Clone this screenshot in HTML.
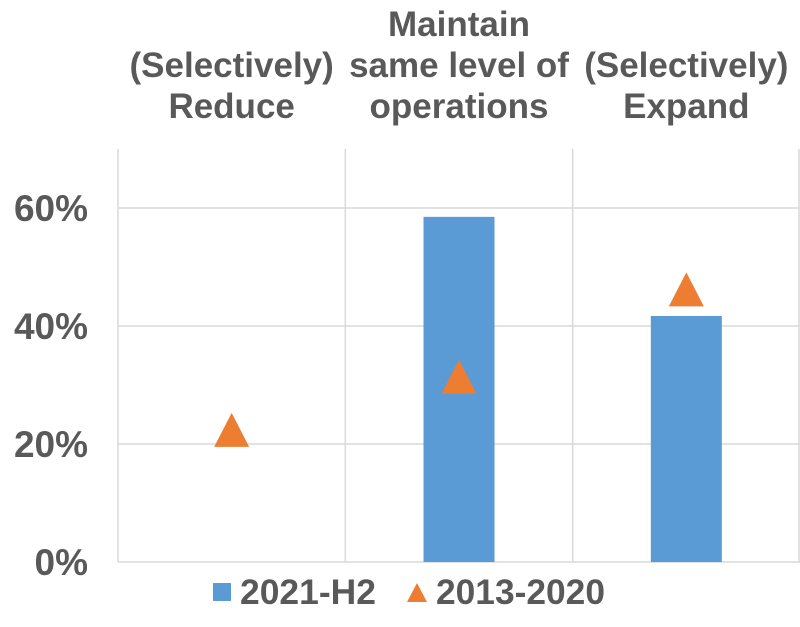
<!DOCTYPE html>
<html><head><meta charset="utf-8"><style>
html,body{margin:0;padding:0;background:#fff}
svg text{font-family:"Liberation Sans",Arial,sans-serif;font-weight:bold;fill:#595959}
</style></head><body>
<svg id="chart" width="800" height="622" viewBox="0 0 800 622" xmlns="http://www.w3.org/2000/svg">
<g id="grid"></g>
<g id="cats"></g>
<g id="yt"></g>
<g id="bars"></g>
<g id="tris"></g>
<g>
<rect x="213" y="583" width="18" height="18" fill="#5B9BD5"/>
<text x="240" y="604" font-size="35" textLength="136" lengthAdjust="spacingAndGlyphs">2021-H2</text>
<polygon points="417,583 427,602 407,602" fill="#ED7D31"/>
<text x="436" y="604" font-size="35" textLength="169" lengthAdjust="spacingAndGlyphs">2013-2020</text>
</g>
</svg>
<script>
const categories=[["(Selectively)","Reduce"],["Maintain","same level of","operations"],["(Selectively)","Expand"]];
const bars2021=[null,58.5,41.7];
const tri2013=[22.4,31.4,46.2];
const yTicks=[0,20,40,60];
const yTickLabels=["0%","20%","40%","60%"];
const NS="http://www.w3.org/2000/svg";
const x0=118,x1=800,yBase=562,pxPer=5.9,yTop=149;
const cw=(x1-x0)/categories.length;
const y=v=>yBase-v*pxPer;
const cx=i=>x0+cw*(i+0.5);
function mk(t,a,p){const e=document.createElementNS(NS,t);for(const k in a)e.setAttribute(k,a[k]);p.appendChild(e);return e;}
const grid=document.getElementById('grid');
yTicks.forEach(v=>{const l=mk('line',{x1:x0,x2:x1,y1:y(v),y2:y(v),stroke:'#d9d9d9','stroke-width':1.5},grid);

});
for(let i=0;i<=categories.length;i++){const xx=Math.min(x0+cw*i,799);const l=mk('line',{x1:xx,x2:xx,y1:yTop,y2:yBase,stroke:'#d9d9d9','stroke-width':1.5},grid);

}
const yt=document.getElementById('yt');
yTicks.forEach((v,i)=>{const t=mk('text',{x:88,y:y(v)+13,'text-anchor':'end','font-size':37},yt);t.textContent=yTickLabels[i];

});
const cats=document.getElementById('cats');
categories.forEach((lines,i)=>{const n=lines.length;lines.forEach((s,j)=>{const t=mk('text',{x:cx(i),y:118-(n-1-j)*41,'text-anchor':'middle','font-size':35},cats);t.textContent=s;

});});
const bg=document.getElementById('bars');
bars2021.forEach((v,i)=>{if(v==null)return;const r=mk('rect',{x:cx(i)-35.5,y:y(v),width:71,height:yBase-y(v),fill:'#5B9BD5'},bg);

});
const tg=document.getElementById('tris');
tri2013.forEach((v,i)=>{const c=cx(i),m=y(v);const p=mk('polygon',{points:`${c},${m-17} ${c+17.5},${m+17} ${c-17.5},${m+17}`,fill:'#ED7D31'},tg);

});
</script>
</body></html>
